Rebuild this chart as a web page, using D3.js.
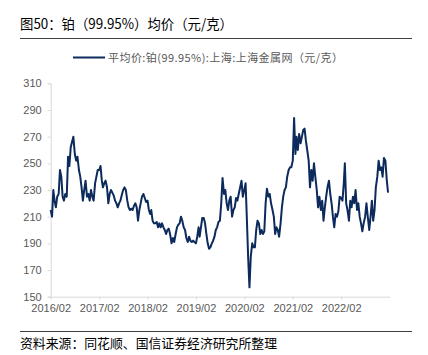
<!DOCTYPE html>
<html>
<head>
<meta charset="utf-8">
<script src="https://cdn.jsdelivr.net/npm/d3@7"></script>
<style>
  html, body { margin: 0; padding: 0; background: #fff; }
  svg { display: block; }
</style>
</head>
<body>
<svg id="chart" width="428" height="355"></svg>
<script>
// ---- Data: ten-day (dekad) readings, 1st / 11th / 21st of each month ----
const months = [
  "2016-02","2016-03","2016-04","2016-05","2016-06","2016-07","2016-08","2016-09","2016-10","2016-11","2016-12",
  "2017-01","2017-02","2017-03","2017-04","2017-05","2017-06","2017-07","2017-08","2017-09","2017-10","2017-11","2017-12",
  "2018-01","2018-02","2018-03","2018-04","2018-05","2018-06","2018-07","2018-08","2018-09","2018-10","2018-11","2018-12",
  "2019-01","2019-02","2019-03","2019-04","2019-05","2019-06","2019-07","2019-08","2019-09","2019-10","2019-11","2019-12",
  "2020-01","2020-02","2020-03","2020-04","2020-05","2020-06","2020-07","2020-08","2020-09","2020-10","2020-11","2020-12",
  "2021-01","2021-02","2021-03","2021-04","2021-05","2021-06","2021-07","2021-08","2021-09","2021-10","2021-11","2021-12",
  "2022-01","2022-02","2022-03","2022-04","2022-05","2022-06","2022-07","2022-08","2022-09","2022-10","2022-11","2022-12",
  "2023-01"
];
const dekadDays = ["01", "11", "21"];
const priceByMonth = [
  [215,210,230],[222,217,225],[227,245,240],[225,222,227],[225,255,248],[262,266,270],[257,252,255],[245,240,232],[222,230,237],[225,227,222],[230,225,222],
  [235,240,245],[245,248,237],[232,235,237],[232,220,227],[230,228,226],[222,220,217],[220,222,226],[230,232,230],[222,217,215],[216,215,218],[220,217,207],[215,220,225],
  [227,224,221],[222,215,212],[215,207,205],[205,206,202],[205,202,205],[202,200,197],[200,201,197],[190,194,191],[197,202,204],[205,210,207],[202,200,194],[191,195,192],
  [191,192,191],[190,195,202],[195,202,209],[209,205,197],[190,186,187],[190,192,195],[200,202,206],[207,220,239],[227,230,220],[215,222,225],[210,215,217],[224,222,227],
  [232,237,225],[230,235,207],[180,157,180],[190,187,187],[200,207,205],[197,200,197],[199,220,231],[225,227,220],[215,210,197],[202,200,195],[205,217,225],[230,232,240],
  [245,247,247],[252,284,257],[270,260,272],[265,270,275],[276,267,260],[252,232,245],[237,250,240],[230,217,225],[215,222,207],[217,225,232],[237,227,220],[210,202,212],
  [210,214,225],[224,222,235],[250,220,215],[207,222,217],[225,220,230],[215,220,210],[205,199,205],[210,220,210],[200,210,222],[207,215,232],[240,252,245],[247,240,254],
  [252,238,228]
];
const xTickLabels = ["2016/02","2017/02","2018/02","2019/02","2020/02","2021/02","2022/02"];
const yTicks = [150,170,190,210,230,250,270,290,310];

const titleText = "图50：铂（99.95%）均价（元/克）";
const legendText = "平均价:铂(99.95%):上海:上海金属网（元/克）";
const sourceText = "资料来源：同花顺、国信证券经济研究所整理";

// ---- Build series ----
const parseDay = d3.timeParse("%Y-%m-%d");
const parseMonth = d3.timeParse("%Y/%m");
const series = [];
months.forEach((m, i) => {
  dekadDays.forEach((dd, j) => {
    series.push({ date: parseDay(m + "-" + dd), value: priceByMonth[i][j] });
  });
});

// ---- Layout ----
const svg = d3.select("#chart");
const lineColor = "#0c2a5c";
const axisColor = "#d9d9d9";
const labelColor = "#595959";
const cjk = "'Noto Sans CJK SC', 'Noto Sans', sans-serif";
const latin = "'Liberation Sans', Arial, sans-serif";

const x = d3.scaleTime()
  .domain([parseDay("2016-02-01"), parseDay("2023-02-01")])
  .range([50.7, 389.5]);
const y = d3.scaleLinear().domain([150, 310]).range([296.7, 83.3]);

// Title
svg.append("text").attr("x", 20).attr("y", 29)
  .attr("font-family", cjk).attr("font-size", 14).attr("fill", "#000")
  .attr("textLength", 213).attr("lengthAdjust", "spacingAndGlyphs")
  .text(titleText);
svg.append("line").attr("x1", 20).attr("x2", 412).attr("y1", 38.5).attr("y2", 38.5)
  .attr("stroke", "#404040").attr("stroke-width", 1);

// Legend
svg.append("line").attr("x1", 73).attr("x2", 105).attr("y1", 57.5).attr("y2", 57.5)
  .attr("stroke", lineColor).attr("stroke-width", 2);
svg.append("text").attr("x", 108).attr("y", 61.5)
  .attr("font-family", cjk).attr("font-size", 11).attr("fill", labelColor)
  .attr("textLength", 235).attr("lengthAdjust", "spacing")
  .text(legendText);

// Y axis
const yAxis = d3.axisLeft(y).tickValues(yTicks).tickSize(3).tickPadding(6).tickFormat(d3.format("d"));
const gy = svg.append("g").attr("transform", "translate(50.7,0)").call(yAxis);
gy.select(".domain").attr("stroke", axisColor);
gy.selectAll(".tick line").attr("stroke", axisColor);
gy.selectAll(".tick text").attr("fill", labelColor).attr("font-family", latin).attr("font-size", 11);

// X axis
const xAxis = d3.axisBottom(x)
  .tickValues(xTickLabels.map(parseMonth))
  .tickSize(3).tickSizeOuter(0).tickPadding(5)
  .tickFormat(d3.timeFormat("%Y/%m"));
const gx = svg.append("g").attr("transform", "translate(0,296.7)").call(xAxis);
gx.select(".domain").attr("stroke", axisColor);
gx.selectAll(".tick line").attr("stroke", axisColor);
gx.selectAll(".tick text").attr("fill", labelColor).attr("font-family", latin).attr("font-size", 11);

// Line
const line = d3.line().x(d => x(d.date)).y(d => y(d.value));
svg.append("path").datum(series)
  .attr("fill", "none").attr("stroke", lineColor)
  .attr("stroke-width", 2).attr("stroke-linejoin", "round")
  .attr("d", line);

// Footer
svg.append("line").attr("x1", 20).attr("x2", 412).attr("y1", 331.5).attr("y2", 331.5)
  .attr("stroke", "#404040").attr("stroke-width", 1);
svg.append("text").attr("x", 20).attr("y", 347.5)
  .attr("font-family", cjk).attr("font-size", 13).attr("fill", "#000")
  .attr("textLength", 257).attr("lengthAdjust", "spacingAndGlyphs")
  .text(sourceText);
</script>
</body>
</html>
